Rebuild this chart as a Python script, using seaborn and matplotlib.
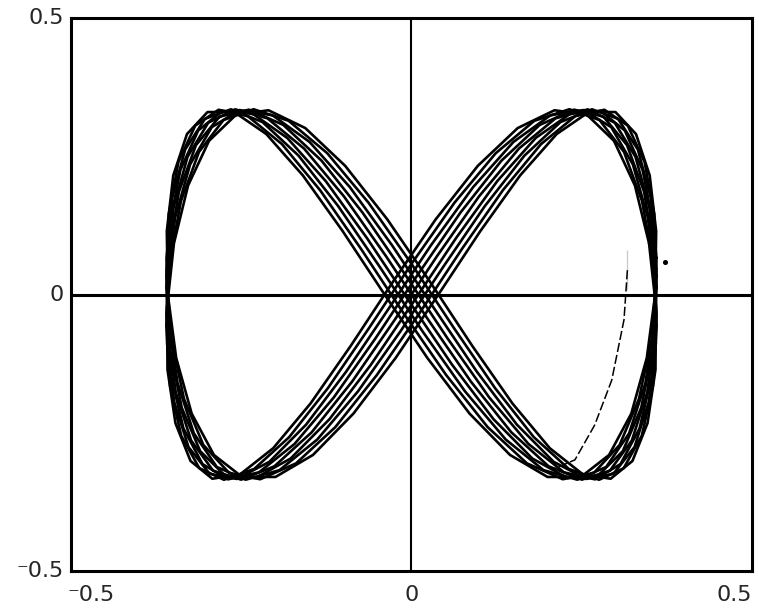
import numpy as np
import pandas as pd
import matplotlib
matplotlib.use("Agg")
import matplotlib.pyplot as plt
import seaborn as sns

# Figure-eight family: x = A cos(t + phase), y = B sin(2t)
x_amplitude = 0.36
y_amplitude = 0.335
phase_offsets = [-0.11, -0.083, -0.055, -0.028, 0.0, 0.028, 0.055, 0.083, 0.11]
sample_starts = [0.00, 0.05, 0.10, 0.02, 0.07, 0.12, 0.04, 0.09, 0.14]
samples_per_cycle = 36

# Thin inner trace on the right loop and a stray point
inner_x = [0.317, 0.317, 0.312, 0.294, 0.269, 0.240, 0.206]
inner_y = [0.080, 0.008, -0.046, -0.155, -0.236, -0.299, -0.317]
stray_x = [0.372]
stray_y = [0.059]

x_ticks = ["\u207b0.5", "0", "0.5"]
y_ticks = ["0.5", "0", "\u207b0.5"]

rows = []
for k, (ph, t0) in enumerate(zip(phase_offsets, sample_starts)):
    t = t0 + np.linspace(0, 2 * np.pi, samples_per_cycle + 1)
    for tt in t:
        rows.append({"curve": k,
                     "x": x_amplitude * np.cos(tt + ph),
                     "y": y_amplitude * np.sin(2 * tt)})
df = pd.DataFrame(rows)

sns.set_style("white")
plt.rcParams["font.family"] = ["DejaVu Sans"]

fig = plt.figure(figsize=(7.59, 6.14), dpi=100)
ax = fig.add_axes([0.0935, 0.070, 0.8973, 0.9007])

sns.lineplot(data=df, x="x", y="y", units="curve", estimator=None, sort=False,
             color="black", linewidth=1.9, ax=ax, legend=False)
sns.lineplot(x=inner_x, y=inner_y, sort=False, color="black", linewidth=1.1,
             linestyle=(0, (6, 2)), ax=ax, legend=False)
ax.scatter(stray_x, stray_y, s=7, color="black", zorder=3)

ax.axhline(0, color="black", linewidth=2.2)
ax.axvline(0, color="black", linewidth=1.5)

ax.set_xlim(-0.5, 0.5)
ax.set_ylim(-0.5, 0.5)
ax.set_xticks([])
ax.set_yticks([])
ax.set_xlabel("")
ax.set_ylabel("")
for s in ax.spines.values():
    s.set_color("black")
    s.set_linewidth(2.2)

fs = 16
# y-axis labels at top, zero and bottom
ax.text(-0.51, 0.5, y_ticks[0], ha="right", va="center", fontsize=fs)
ax.text(-0.51, 0.0, y_ticks[1], ha="right", va="center", fontsize=fs)
ax.text(-0.51, -0.5, y_ticks[2], ha="right", va="center", fontsize=fs)
# x-axis labels at left end, zero and right end
ax.text(-0.505, -0.525, x_ticks[0], ha="left", va="top", fontsize=fs)
ax.text(0.0, -0.525, x_ticks[1], ha="center", va="top", fontsize=fs)
ax.text(0.5, -0.525, x_ticks[2], ha="right", va="top", fontsize=fs)

fig.savefig("out.png", dpi=100)
